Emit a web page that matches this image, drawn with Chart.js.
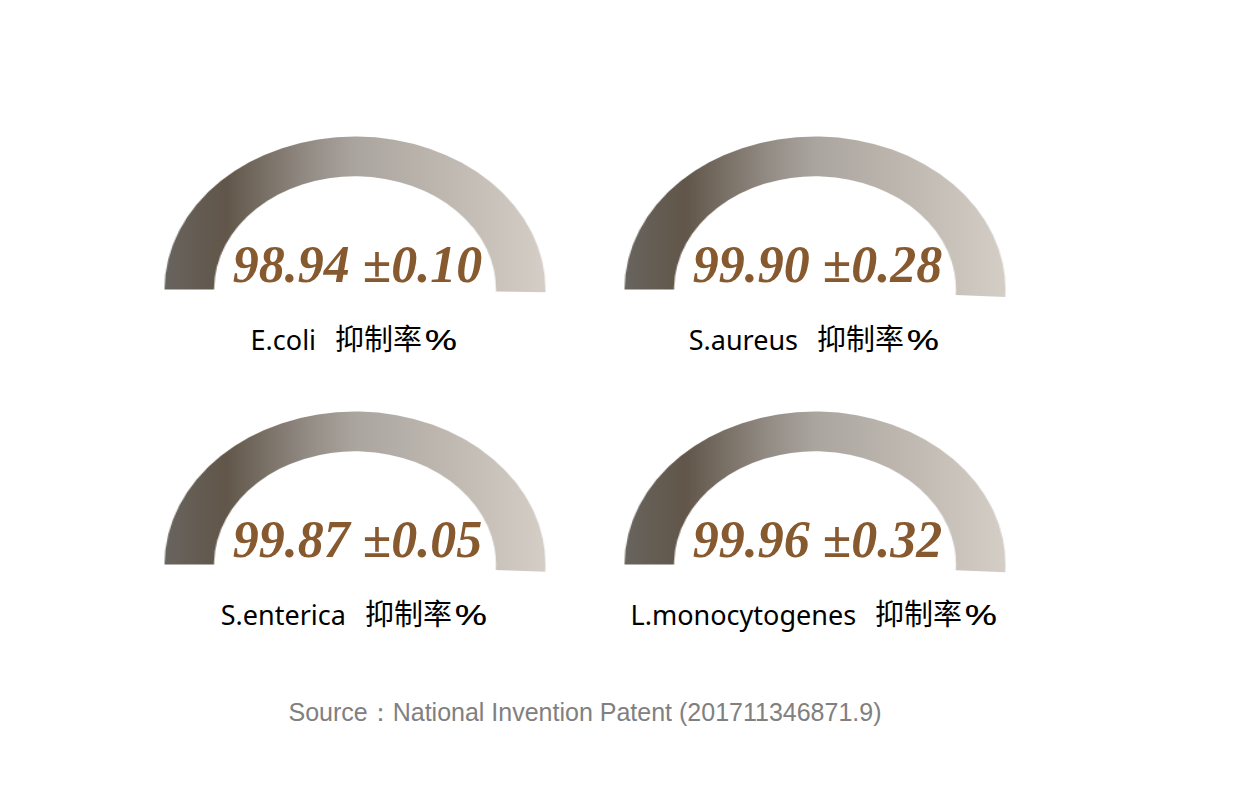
<!DOCTYPE html>
<html>
<head>
<meta charset="utf-8">
<script src="https://cdn.jsdelivr.net/npm/chart.js"></script>
<style>
  body { margin: 0; background: #fff; width: 1234px; height: 805px; position: relative; overflow: hidden; }
  .gauge { position: absolute; width: 306px; height: 166px; transform: scaleX(1.245); transform-origin: 50% 50%; }
  .num { position: absolute; width: 400px; text-align: center; font-family: "Liberation Serif", "Times New Roman", serif;
         font-weight: bold; font-style: italic; font-size: 52px; line-height: 1; color: #87592f; white-space: nowrap; }
  .lbl { position: absolute; width: 500px; text-align: center; font-family: "Noto Sans", "Noto Sans CJK SC", sans-serif;
         font-size: 27px; line-height: 40px; color: #000; white-space: nowrap; }
  .lbl .cn { font-family: "Noto Sans CJK SC", sans-serif; font-size: 29px; margin-left: 19px; }
  .lbl .pct { display: inline-block; font-size: 28px; margin-left: 2px; margin-right: 11px; transform: scaleX(1.45); transform-origin: 0 50%; }
  #src { position: absolute; left: 0; width: 1170px; top: 697px; text-align: center; font-family: "Liberation Sans", Arial, sans-serif;
         font-size: 25px; line-height: 30px; color: #808080; }
</style>
</head>
<body>
<div id="src">Source：National Invention Patent (201711346871.9)</div>
<script>
// bacteria, inhibition rate (%) and +/- deviation
var bacteria = ['E.coli', 'S.aureus', 'S.enterica', 'L.monocytogenes'];
var rates = [98.94, 99.90, 99.87, 99.96];
var errors = [0.10, 0.28, 0.05, 0.32];

var centers = [[354.5, 288], [814.5, 288], [354.5, 563], [814.5, 563]];

function gradFill(context) {
    if (context.dataIndex === 1) return 'rgba(0,0,0,0)';
    var chart = context.chart;
    var area = chart.chartArea;
    if (!area) return '#a09a94';
    var g = chart.ctx.createLinearGradient(area.left, 0, area.right, 0);
    g.addColorStop(0, '#68645e');
    g.addColorStop(0.16, '#615649');
    g.addColorStop(0.38, '#948d86');
    g.addColorStop(0.5, '#aba59f');
    g.addColorStop(0.75, '#bfb9b2');
    g.addColorStop(1, '#d5cec7');
    return g;
}

for (var i = 0; i < bacteria.length; i++) {
    var cx = centers[i][0], cy = centers[i][1];

    var box = document.createElement('div');
    box.className = 'gauge';
    box.style.left = (cx - 153) + 'px';
    box.style.top = (cy - 154) + 'px';
    var cv = document.createElement('canvas');
    box.appendChild(cv);
    document.body.appendChild(box);

    new Chart(cv, {
        type: 'doughnut',
        data: {
            labels: ['rate', 'rest'],
            datasets: [{
                data: [rates[i], 100 - rates[i]],
                backgroundColor: gradFill,
                borderWidth: 0
            }]
        },
        options: {
            responsive: true,
            maintainAspectRatio: false,
            animation: false,
            events: [],
            rotation: -90,
            circumference: 183,
            cutout: '74%',
            plugins: { legend: { display: false }, tooltip: { enabled: false } }
        }
    });

    var num = document.createElement('div');
    num.className = 'num';
    num.style.left = (cx + 3 - 200) + 'px';
    num.style.top = (cy - 49) + 'px';
    num.textContent = rates[i].toFixed(2) + ' ±' + errors[i].toFixed(2);
    document.body.appendChild(num);

    var lbl = document.createElement('div');
    lbl.className = 'lbl';
    lbl.style.left = (cx - 250) + 'px';
    lbl.style.top = (cy + 29) + 'px';
    lbl.textContent = bacteria[i];
    var cn = document.createElement('span');
    cn.className = 'cn';
    cn.textContent = '抑制率';
    lbl.appendChild(cn);
    var pct = document.createElement('span');
    pct.className = 'pct';
    pct.textContent = '%';
    lbl.appendChild(pct);
    document.body.appendChild(lbl);
}
</script>
</body>
</html>
